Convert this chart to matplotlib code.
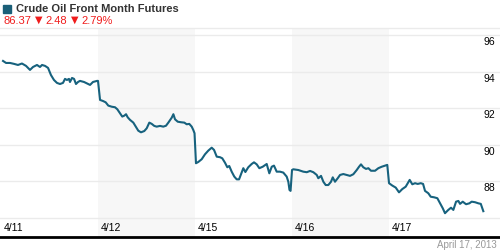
import matplotlib.pyplot as plt
from matplotlib.transforms import blended_transform_factory, offset_copy

plt.rcParams['font.family'] = ['Liberation Sans', 'DejaVu Sans']

# time in trading sessions since the 4/11 open (1.0 = one session)
day_labels = ["4/11", "4/12", "4/15", "4/16", "4/17"]
shaded_days = [1, 3]
y_ticks = [86, 88, 90, 92, 94, 96]

t = [0.021, 0.052, 0.093, 0.134, 0.175, 0.216, 0.258, 0.299, 0.330, 0.371,
     0.402, 0.423, 0.454, 0.485, 0.515, 0.546, 0.577, 0.608, 0.639, 0.660,
     0.680, 0.701, 0.711, 0.732, 0.753, 0.773, 0.794, 0.814, 0.856, 0.897,
     0.918, 0.948, 0.990, 1.000,
     1.021, 1.052, 1.079, 1.106, 1.141, 1.175, 1.199, 1.227, 1.250, 1.271,
     1.289, 1.306, 1.330, 1.364, 1.389, 1.415, 1.443, 1.477, 1.502, 1.529,
     1.554, 1.580, 1.605, 1.639, 1.673, 1.701, 1.725, 1.760, 1.777, 1.794,
     1.822, 1.856, 1.890, 1.914, 1.941, 1.966, 1.982, 1.995,
     2.010, 2.034, 2.069, 2.103, 2.137, 2.172, 2.196, 2.224, 2.258, 2.281,
     2.309, 2.333, 2.353, 2.378, 2.405, 2.430, 2.454, 2.474, 2.498, 2.519,
     2.549, 2.584, 2.608, 2.636, 2.663, 2.698, 2.739, 2.766, 2.791, 2.814,
     2.842, 2.876, 2.910, 2.945, 2.962, 2.974, 2.985,
     3.000, 3.013, 3.065, 3.116, 3.152, 3.186, 3.220, 3.255, 3.271, 3.299,
     3.323, 3.347, 3.374, 3.402, 3.420, 3.443, 3.471, 3.495, 3.529, 3.564,
     3.598, 3.632, 3.667, 3.691, 3.711, 3.735, 3.763, 3.787, 3.814, 3.856,
     3.890, 3.925, 3.959, 3.982,
     4.000, 4.034, 4.069, 4.103, 4.137, 4.172, 4.213, 4.240, 4.268, 4.296,
     4.327, 4.351, 4.371, 4.405, 4.430, 4.464, 4.498, 4.526, 4.554, 4.577,
     4.611, 4.639, 4.663, 4.691, 4.715, 4.732, 4.760, 4.794, 4.828, 4.852,
     4.887, 4.921, 4.946, 4.972]

price = [94.58, 94.47, 94.47, 94.42, 94.36, 94.44, 94.31, 94.09, 94.25, 94.36,
         94.25, 94.36, 94.31, 94.20, 93.81, 93.54, 93.38, 93.32, 93.38, 93.60,
         93.54, 93.60, 93.43, 93.65, 93.60, 93.32, 93.43, 93.49, 93.43, 93.32,
         93.27, 93.43, 93.49, 93.49,
         92.45, 92.39, 92.32, 92.14, 92.08, 92.05, 91.94, 91.72, 91.54, 91.59,
         91.67, 91.50, 91.36, 91.21, 90.99, 90.77, 90.68, 90.75, 90.90, 91.21,
         91.14, 91.03, 90.99, 91.03, 90.99, 91.04, 91.21, 91.48, 91.67, 91.39,
         91.26, 91.23, 91.21, 91.12, 91.14, 90.99, 90.81, 90.63,
         88.99, 89.06, 89.21, 89.48, 89.68, 89.84, 89.72, 89.35, 89.32, 89.26,
         89.02, 88.77, 88.84, 88.53, 88.26, 88.11, 88.11, 88.39, 88.72, 88.51,
         88.77, 88.95, 89.04, 88.93, 88.72, 88.80, 88.95, 88.44, 88.80, 88.86,
         88.53, 88.53, 88.48, 88.26, 87.98, 87.53, 87.48,
         88.62, 88.66, 88.62, 88.53, 88.50, 88.57, 88.50, 88.35, 88.17, 88.30,
         87.98, 87.80, 87.80, 87.98, 88.22, 87.98, 88.17, 88.35, 88.40, 88.35,
         88.30, 88.39, 88.62, 88.80, 88.93, 88.77, 88.68, 88.72, 88.58, 88.58,
         88.72, 88.80, 88.86, 88.90,
         87.90, 87.77, 87.66, 87.40, 87.58, 87.71, 88.08, 87.84, 87.90, 87.86,
         87.90, 87.86, 87.48, 87.35, 87.16, 87.13, 87.08, 86.80, 86.53, 86.26,
         86.44, 86.56, 86.44, 86.89, 86.93, 86.77, 86.89, 86.75, 86.80, 86.89,
         86.86, 86.80, 86.77, 86.37]

title = "Crude Oil Front Month Futures"
last_txt, chg_txt, pct_txt = "86.37", "2.48", "2.79%"
date_txt = "April 17, 2013"

LINE = "#17627e"
RED = "#f01c1c"

fig = plt.figure(figsize=(5, 2.5), dpi=100)
ax = fig.add_axes([0, 0.052, 1, 0.836])
ax.set_xlim(-0.0103, 5.144)
ax.set_ylim(84.96, 96.38)

for d in shaded_days:
    ax.axvspan(d, d + 1, color="#f7f7f7", lw=0, zorder=0)
for v in y_ticks:
    ax.axhline(v, color="#ebebeb", lw=1, zorder=1)
ax.plot(t, price, color=LINE, lw=1.5, zorder=3, solid_joinstyle="round")

for s in ["left", "right"]:
    ax.spines[s].set_visible(False)
ax.spines["top"].set_color("#ebebeb")
ax.spines["top"].set_linewidth(1)
ax.spines["bottom"].set_color("black")
ax.spines["bottom"].set_linewidth(2)
ax.set_xticks([])
ax.set_yticks([])

# date labels along the bottom
tr = offset_copy(blended_transform_factory(ax.transData, ax.transAxes), fig=fig, x=3, y=0, units="dots")
for i, lab in enumerate(day_labels):
    ax.text(i, 0.042, lab, transform=tr, fontsize=7.5, ha="left", va="center", color="black")

# price labels at the right, just under their gridlines
tr2 = offset_copy(blended_transform_factory(ax.transAxes, ax.transData), fig=fig, x=0, y=-2, units="dots")
for v in y_ticks:
    if v == 86:
        continue
    ax.text(0.99, v, str(v), transform=tr2, fontsize=7.5, ha="right", va="top", color="black")

# header
fig.patches.append(plt.Rectangle((3 / 500, 1 - 13 / 250), 8 / 500, 8 / 250,
                                 transform=fig.transFigure, color="#1b5f78"))
fig.text(16 / 500, 1 - 9 / 250, title, fontsize=8, fontweight="bold",
         color="#333333", va="center", ha="left")
fig.text(3 / 500, 1 - 20.5 / 250, last_txt, fontsize=8, color=RED, va="center", ha="left")
fig.text(35 / 500, 1 - 20 / 250, "\u25bc", fontsize=7, color=RED, va="center", ha="left",
         family="DejaVu Sans")
fig.text(45 / 500, 1 - 20.5 / 250, chg_txt, fontsize=8, color=RED, va="center", ha="left")
fig.text(71 / 500, 1 - 20 / 250, "\u25bc", fontsize=7, color=RED, va="center", ha="left",
         family="DejaVu Sans")
fig.text(81 / 500, 1 - 20.5 / 250, pct_txt, fontsize=8, color=RED, va="center", ha="left")

fig.text(497 / 500, 1 - 245 / 250, date_txt, fontsize=7, color="#999999", va="center", ha="right")

fig.savefig("out.png", dpi=100)
